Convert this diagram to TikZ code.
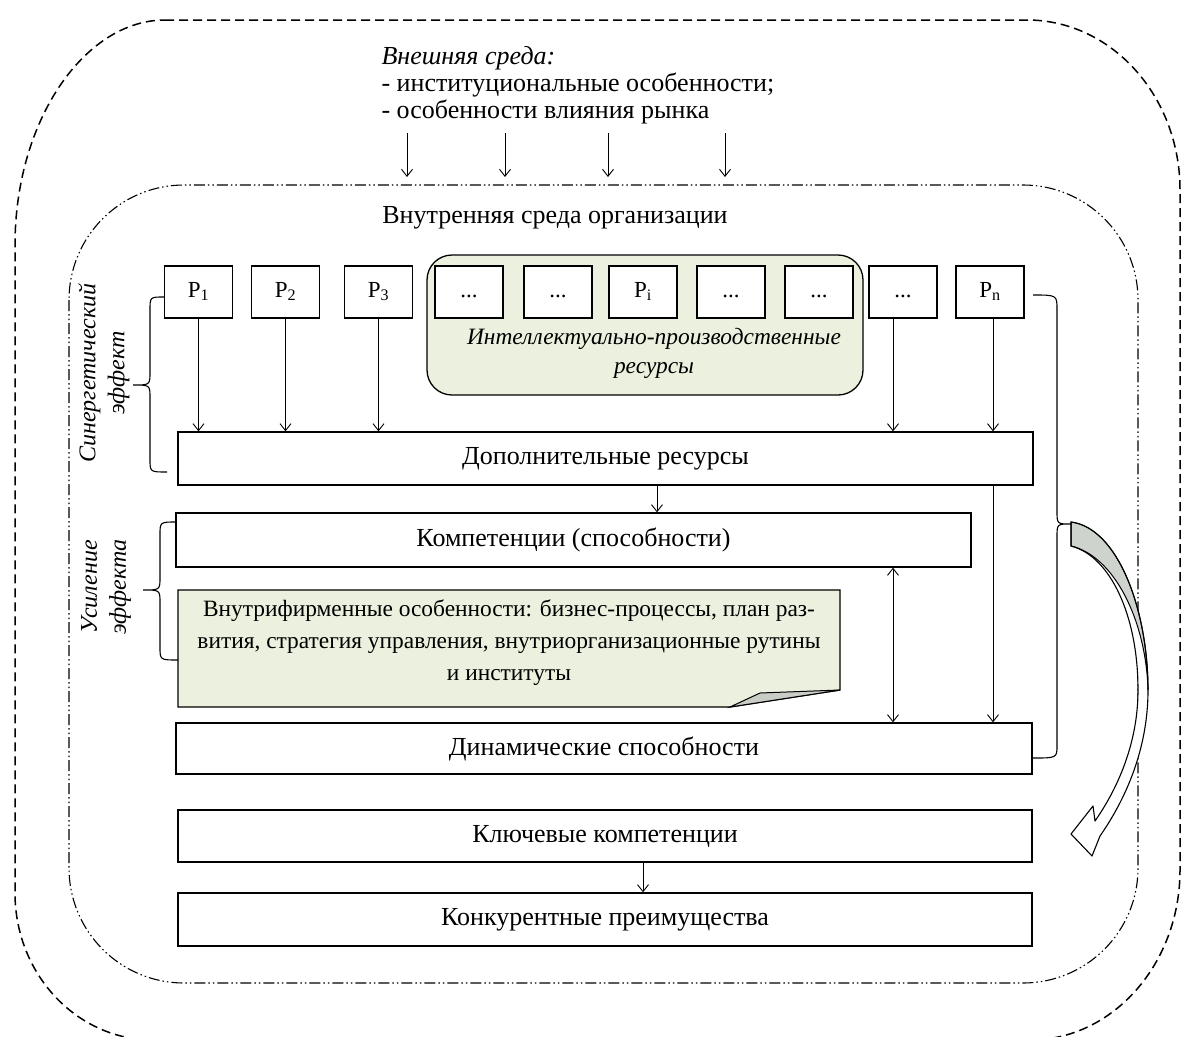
\documentclass[tikz,border=0pt]{standalone}
\usepackage{fontspec}
\setmainfont{Liberation Serif}
\usetikzlibrary{arrows.meta}
\definecolor{lgreen}{RGB}{235,241,222}
\definecolor{foldgray}{RGB}{200,206,198}
\definecolor{arrgray}{RGB}{206,211,206}
\begin{document}
\begin{tikzpicture}[x=1pt,y=-1pt,
  every node/.style={font=\fontsize{26}{27}\selectfont},
  bx/.style={draw, line width=1.3pt, inner sep=0pt, fill=white},
  pbox/.style={bx, minimum width=68pt, minimum height=52pt, text height=15pt, text depth=5pt, font=\fontsize{23}{24}\selectfont},
  wide/.style={bx, minimum height=53pt},
  arr/.style={line width=0.9pt, -{Straight Barb[length=7pt,width=11pt]}},
  darr/.style={line width=0.9pt, {Straight Barb[length=7pt,width=11pt]}-{Straight Barb[length=7pt,width=11pt]}},
  brace/.style={line width=1.1pt},
  lbl/.style={font=\fontsize{24}{29}\selectfont\itshape, align=center},
  outerb/.style={line width=1.5pt, dash pattern=on 9pt off 5pt},
  innerb/.style={line width=1.1pt, dash pattern=on 11pt off 3pt on 1.5pt off 3pt on 1.5pt off 3pt}
]
\useasboundingbox (0,0) rectangle (1182,1036);

% outer environment border
\draw[outerb] (165,20) -- (1027,20) .. controls (1111.5,20) and (1180,96.2) .. (1180,190)
  -- (1180,870) .. controls (1180,963.8) and (1112.8,1040) .. (1030,1040)
  -- (153,1040) .. controls (76.8,1040) and (15,974.1) .. (15,893)
  -- (15,245) .. controls (15,120) and (85,20) .. cycle;

% inner environment border
\draw[innerb, rounded corners=115pt] (69,185) rectangle (1138,983);

% external environment text
\node[anchor=base west, font=\fontsize{26}{27}\selectfont\itshape] (ext1) at (378,64) {Внешняя среда:};
\node[anchor=base west] (ext2) at (378,91) {- институциональные особенности;};
\node[anchor=base west] (ext3) at (378,118) {- особенности влияния рынка};

\foreach \i/\x in {1/407,2/505,3/608,4/725}{
  \coordinate (ta\i) at (\x,133);
  \coordinate (tb\i) at (\x,177);
  \draw[arr] (ta\i) -- (tb\i);
}

\node (intitle) at (555,218) {Внутренняя среда организации};

% intellectual-production group
\node[draw, line width=1.3pt, rounded corners=25pt, fill=lgreen, minimum width=436pt, minimum height=140pt] (grp) at (645,325) {};
\node[lbl, font=\fontsize{23.4}{29}\selectfont\itshape] (grptxt) at (654,353) {Интеллектуально-производственные\\ресурсы};

% resource boxes
\node[pbox] (p1) at (198.5,292) {P\textsubscript{1}};
\node[pbox] (p2) at (285.5,292) {P\textsubscript{2}};
\node[pbox] (p3) at (378.5,292) {P\textsubscript{3}};
\node[pbox] (d1) at (469,292) {...};
\node[pbox] (d2) at (558,292) {...};
\node[pbox] (pi) at (643,292) {P\textsubscript{i}};
\node[pbox] (d3) at (731,292) {...};
\node[pbox] (d4) at (819,292) {...};
\node[pbox] (d5) at (903,292) {...};
\node[pbox] (pn) at (990,292) {P\textsubscript{n}};

% main boxes
\node[wide, minimum width=855pt] (dop) at (605.5,458.5) {Дополнительные ресурсы};
\node[wide, minimum width=795pt, minimum height=54pt] (komp) at (573.5,540) {Компетенции (способности)};
\node[wide, minimum width=856pt, minimum height=51pt] (din) at (604,748.5) {Динамические способности};
\node[wide, minimum width=854pt, minimum height=52pt] (kl) at (605,836) {Ключевые компетенции};
\node[wide, minimum width=854pt] (kon) at (605,919.5) {Конкурентные преимущества};

% note with folded corner
\coordinate (nA) at (178,590);
\coordinate (nB) at (840,590);
\coordinate (nC) at (840,690);
\coordinate (nD) at (730,707);
\coordinate (nE) at (178,707);
\coordinate (nF) at (760,693);
\draw[line width=1.3pt, fill=lgreen] (nA) -- (nB) -- (nC) -- (nD) -- (nE) -- cycle;
\draw[line width=1pt, fill=foldgray] (nD) -- (nF) -- (nC) -- cycle;
\node[align=center, font=\fontsize{23.4}{32}\selectfont] (note) at (509,643)
  {Внутрифирменные особенности: бизнес-процессы, план раз-\\вития, стратегия управления, внутриорганизационные рутины\\и институты};

% arrows from resources
\draw[arr] (p1.south) -- (p1.south |- dop.north);
\draw[arr] (p2.south) -- (p2.south |- dop.north);
\draw[arr] (p3.south) -- (p3.south |- dop.north);
\coordinate (x893) at (893,0);
\coordinate (x657) at (657,0);
\coordinate (x993) at (993,0);
\draw[arr] (d5.south -| x893) -- (dop.north -| x893);
\draw[arr] (pn.south -| x993) -- (dop.north -| x993);
\draw[arr] (dop.south -| x657) -- (komp.north -| x657);
\draw[darr] (komp.south -| x893) -- (din.north -| x893);
\draw[arr] (dop.south -| x993) -- (din.north -| x993);
\draw[arr] (kl.south -| pi) -- (kon.north -| pi);

% left braces
\draw[brace] (164,297) .. controls (150,297) .. (150,310) -- (150,372)
  .. controls (150,385) .. (133,385) .. controls (150,385) .. (150,398)
  -- (150,459) .. controls (150,472) .. (167,472);
\node[lbl, rotate=90] (syn) at (104,373) {Синергетический\\эффект};

\draw[brace] (176,522) .. controls (160,522) .. (160,535) -- (160,577)
  .. controls (160,590) .. (143,590) .. controls (160,590) .. (160,603)
  -- (160,647) .. controls (160,660) .. (178,660);
\node[lbl, rotate=90] (usil) at (106,587) {Усиление\\эффекта};

% right brace
\draw[brace] (1033,295) .. controls (1057,295) .. (1057,310) -- (1057,511)
  .. controls (1057,524) .. (1071,524) .. controls (1057,524) .. (1057,537)
  -- (1057,745) .. controls (1057,758) .. (1033,758);

% big curved arrow
\def\curvedarrow{(1071,522) .. controls (1118,528) and (1148,610) .. (1148,690)
  .. controls (1148,750) and (1125,800) .. (1100,836)
  -- (1092,856) -- (1071,834) -- (1093,806) -- (1095,821)
  .. controls (1120,785) and (1138,740) .. (1138,690)
  .. controls (1138,615) and (1110,556) .. (1071,546) -- cycle}
\def\backface{(1071,522) .. controls (1118,528) and (1148,610) .. (1148,690)
  .. controls (1146,620) and (1114,556) .. (1071,546) -- cycle}
\fill[white] \curvedarrow;
\filldraw[fill=arrgray, line width=1pt] \backface;
\draw[line width=1.1pt, line join=round] \curvedarrow;
\end{tikzpicture}
\end{document}
